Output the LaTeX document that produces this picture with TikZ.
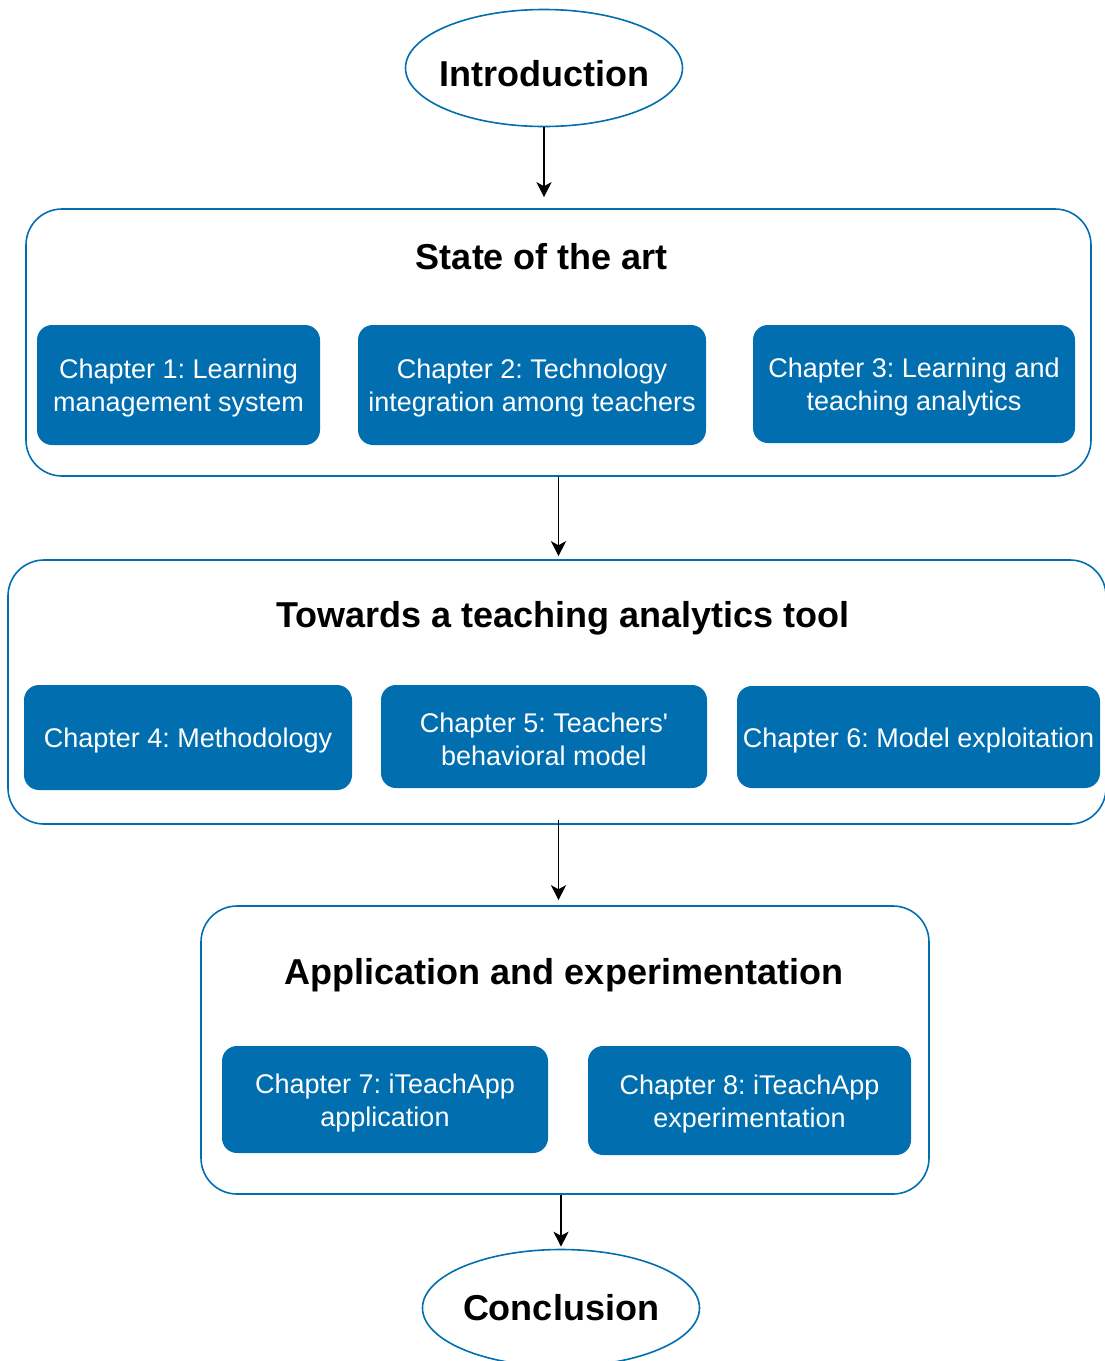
\documentclass[tikz,border=0pt]{standalone}
\usepackage{fontspec}
\setmainfont{Liberation Sans}
\usepackage{tikz}
\usetikzlibrary{shapes,arrows.meta,positioning}
\frenchspacing
\definecolor{chapblue}{HTML}{006EAF}
\newcommand{\chapstrut}{\rule{0pt}{26pt}}
\tikzstyle{part} = [ellipse, draw=chapblue, line width=1.6pt, fill=none, text=black, inner sep=0pt, font=\bfseries\fontsize{36}{43}\selectfont, minimum width=277pt, minimum height=117pt]
\tikzstyle{partbox} = [rectangle, draw=chapblue, line width=1.6pt, rounded corners=36pt, fill=none, inner sep=0pt]
\tikzstyle{textonly} = [draw=none, fill=none, text=black, text centered, font=\bfseries\fontsize{36}{43}\selectfont]
\tikzstyle{chapter} = [rectangle, draw=none, rounded corners=15pt, fill=chapblue, text=white, align=center, inner sep=0pt, font=\fontsize{27}{33}\selectfont]
\tikzstyle{tedge} = [draw, line width=1.2pt, -{Stealth[length=15pt, width=15pt, inset=4pt]}]

\begin{document}
\begin{tikzpicture}[x=1pt, y=-1pt]
\useasboundingbox (0,0) rectangle (1104,1361);

% parts =============================
\node[part, text height=37pt, text depth=0pt] (intro) at (544,68) {\makebox[0pt]{Introduction}};
\node[part] (concl) at (561,1308) {\makebox[0pt]{Conclusion}};

% groups
\node[partbox, minimum width=1065pt, minimum height=267pt] (sota) at (558.5,342.5) {};
\node[partbox, minimum width=1098pt, minimum height=264pt] (towards) at (557,692) {};
\node[partbox, minimum width=728pt, minimum height=288pt] (app) at (565,1050) {};

\node[textonly] (sotatitle) at (542,257) {State of the art};
\node[textonly] (towardstitle) at (563,618) {Towards a teaching analytics tool};
\node[textonly] (apptitle) at (564,975) {Application and experimentation};

% chapters
\node[chapter, minimum width=283pt, minimum height=120pt] (ch1) at (178.5,385) {\chapstrut Chapter 1: Learning\\management system};
\node[chapter, minimum width=348pt, minimum height=120pt] (ch2) at (532,385) {\chapstrut Chapter 2: Technology\\integration among teachers};
\node[chapter, minimum width=322pt, minimum height=118pt] (ch3) at (914,384) {\chapstrut Chapter 3: Learning and\\teaching analytics};
\node[chapter, minimum width=328pt, minimum height=105pt] (ch4) at (188,737.5) {\chapstrut Chapter 4: Methodology};
\node[chapter, minimum width=326pt, minimum height=103pt] (ch5) at (544,736.5) {\chapstrut Chapter 5: Teachers\textquotesingle\\behavioral model};
\node[chapter, minimum width=363pt, minimum height=102pt] (ch6) at (918.5,737) {\chapstrut Chapter 6: Model exploitation};
\node[chapter, minimum width=326pt, minimum height=107pt] (ch7) at (385,1099.5) {\chapstrut Chapter 7: iTeachApp\\application};
\node[chapter, minimum width=323pt, minimum height=109pt] (ch8) at (749.5,1100.5) {\chapstrut Chapter 8: iTeachApp\\experimentation};

% edges
\path[tedge, shorten >=11pt] (intro.south) -- (intro.south |- sota.north);
\path[tedge, shorten >=3pt] (sota.south) -- (sota.south |- towards.north);
\path[tedge, shorten >=5pt] ([xshift=1.5pt, yshift=5pt]towards.south) -- ([xshift=1.5pt]towards.south |- app.north);
\path[tedge, shorten >=2pt] (concl.north |- app.south) -- (concl.north);

\end{tikzpicture}
\end{document}
